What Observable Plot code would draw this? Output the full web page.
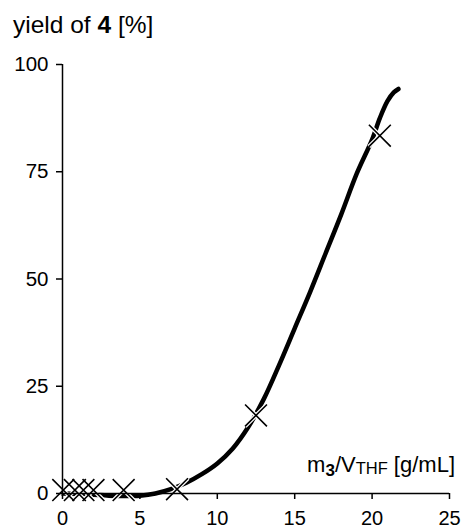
<!DOCTYPE html>
<html>
<head>
<meta charset="utf-8">
<script src="https://cdn.jsdelivr.net/npm/d3@7"></script>
<script src="https://cdn.jsdelivr.net/npm/@observablehq/plot@0.6"></script>
<style>
  html, body { margin: 0; padding: 0; background: #fff; }
  #chart svg { display: block; }
</style>
</head>
<body>
<div id="chart"></div>
<script>
// Tick labels
const xTicks = [0, 5, 10, 15, 20, 25];
const yTicks = [0, 25, 50, 75, 100];

// Measured points (crosses)
const measX = [0.05, 0.8, 1.35, 2.0, 3.95, 7.4, 12.5, 20.5];
const measY = [0.8, 0.8, 0.8, 0.8, 0.8, 1.0, 18.2, 83.4];

// Fitted curve
const fitX = [0, 1, 2, 3, 4, 5, 6, 7, 8, 9, 10, 11, 12, 13, 14, 15, 16, 17, 18, 19, 20, 20.5, 21, 21.4, 21.7];
const fitY = [0, -0.1, -0.3, -0.5, -0.6, -0.5, 0, 1, 2.5, 4.5, 7, 10.5, 15.5, 22, 30, 38.5, 47, 56, 65, 74.5, 82.5, 87.5, 91.5, 93.5, 94.3];

const meas = measX.map((x, i) => ({x, y: measY[i]}));
const fit = fitX.map((x, i) => ({x, y: fitY[i]}));

const font = "'Liberation Sans', Arial, Helvetica, sans-serif";

const plot = Plot.plot({
  width: 465,
  height: 529,
  marginLeft: 62,
  marginRight: 16,
  marginTop: 64,
  marginBottom: 36,
  style: {fontFamily: font, fontSize: "20px", color: "#000", background: "#fff"},
  x: {domain: [0, 25]},
  y: {domain: [0, 100]},
  marks: [
    Plot.line(fit, {x: "x", y: "y", curve: "catmull-rom", stroke: "#000", strokeWidth: 4.5, strokeLinecap: "round"}),
    Plot.dot(meas, {x: "x", y: "y", symbol: "times", r: 10, stroke: "#fff", strokeWidth: 4}),
    Plot.dot(meas, {x: "x", y: "y", symbol: "times", r: 10, stroke: "#000", strokeWidth: 1.6}),
    Plot.ruleX([0], {stroke: "#000", strokeWidth: 1.5}),
    Plot.ruleY([0], {stroke: "#000", strokeWidth: 1.5}),
    Plot.axisX({ticks: xTicks, tickSize: 6, tickPadding: 11, label: null, strokeWidth: 1.5, fontSize: 20}),
    Plot.axisY({ticks: yTicks, tickSize: 6, tickPadding: 8, label: null, strokeWidth: 1.5, fontSize: 20.5})
  ]
});

document.getElementById("chart").appendChild(plot);

const svg = d3.select(plot);
const sx = plot.scale("x"), sy = plot.scale("y");

// Y title
const t = svg.append("text")
  .attr("x", 13).attr("y", 33)
  .attr("text-anchor", "start")
  .attr("font-family", font).attr("font-size", 24.5).attr("fill", "#000");
t.append("tspan").text("yield of ");
t.append("tspan").attr("font-weight", "bold").text("4");
t.append("tspan").text(" [%]");

// X label
const xl = svg.append("text")
  .attr("x", sx.apply(25) + 6).attr("y", sy.apply(0) - 21)
  .attr("text-anchor", "end")
  .attr("font-family", font).attr("font-size", 22).attr("fill", "#000");
xl.append("tspan").text("m");
xl.append("tspan").attr("font-weight", "bold").attr("font-size", 17).attr("dy", 4).text("3");
xl.append("tspan").attr("dy", -4).text("/V");
xl.append("tspan").attr("font-size", 16.5).attr("dy", 2).text("THF");
xl.append("tspan").attr("dy", -2).text(" [g/mL]");
</script>
</body>
</html>
